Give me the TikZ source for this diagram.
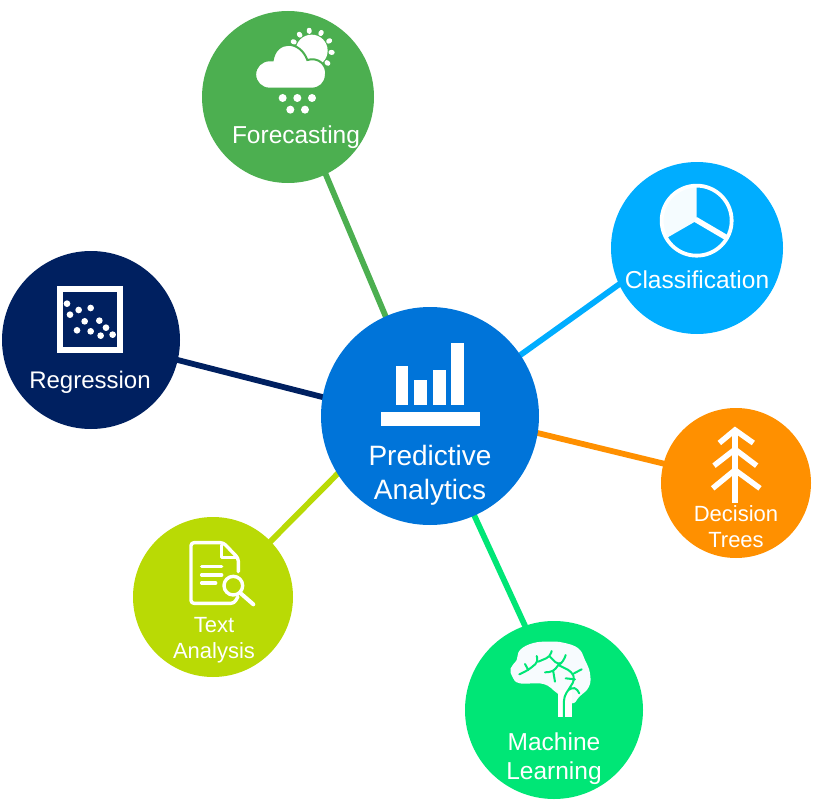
\documentclass[tikz,border=0pt]{standalone}
\usepackage{fontspec}
\setmainfont{Liberation Sans}
\usetikzlibrary{backgrounds}
\definecolor{hubblue}{HTML}{0074D9}
\definecolor{fcgreen}{HTML}{4CAF50}
\definecolor{clblue}{HTML}{00ADFF}
\definecolor{rgnavy}{HTML}{002060}
\definecolor{dtorange}{HTML}{FF9000}
\definecolor{talime}{HTML}{B9DA05}
\definecolor{mlgreen}{HTML}{00E676}
\tikzset{x=1pt,y=-1pt,
 disc/.style={circle,inner sep=0pt,outer sep=0pt,minimum size=#1},
 spoke/.style={line width=5.8pt,shorten <=-3pt,shorten >=-3pt},
 lbl/.style={text=white,inner sep=0pt,align=center,font=\fontsize{#1}{#1}\selectfont},
 zoomed/.style={shift={#1},x=0.3333pt,y=-0.3333pt},
 icon/.style={draw=white,line cap=round,line join=round},
 treeline/.style={draw=white,line width=5.5pt,line join=miter},
 }

\begin{document}
\begin{tikzpicture}
        \useasboundingbox (0,0) rectangle (825,800);
        \node[disc=218pt,fill=hubblue] (hub) at (430,416) {};
        \node[disc=172pt,fill=fcgreen] (forecast) at (288,97) {};
        \node[disc=172pt,fill=clblue] (classif) at (697,248) {};
        \node[disc=178pt,fill=rgnavy] (regress) at (91,340) {};
        \node[disc=150pt,fill=dtorange] (dectree) at (736,483) {};
        \node[disc=160pt,fill=talime] (textan) at (213,597) {};
        \node[disc=178pt,fill=mlgreen] (machine) at (554,710) {};
        \begin{scope}[on background layer]
            \draw[spoke,fcgreen] (hub.114) -- (forecast.-64);
            \draw[spoke,clblue] (hub.34) -- (classif.205.7);
            \draw[spoke,rgnavy] (hub.170.5) -- (regress.-13.6);
            \draw[spoke,dtorange] (hub.-9.5) -- (dectree.165);
            \draw[spoke,talime] (hub.212.8) -- (textan.44.5);
            \draw[spoke,mlgreen] (hub.-66) -- (machine.109.5);
        \end{scope}
        % labels
        \node[lbl=28] (hubtxt) at (430,475) {Predictive\\[6pt]Analytics};
        \node[lbl=24.5] (fctxt) at (296,137) {Forecasting};
        \node[lbl=24.5] (cltxt) at (697,280) {Classification};
        \node[lbl=24] (rgtxt) at (90,382) {Regression};
        \node[lbl=22] (dttxt) at (736,526.5) {Decision\\[4pt]Trees};
        \node[lbl=22] (tatxt) at (214,640.5) {Text\\[4pt]Analysis};
        \node[lbl=24.5] (mltxt) at (554,758.5) {Machine\\[5pt]Learning};
        % bars
        \begin{scope}[zoomed={(370,330)}]
            \fill[white] (77,108) rectangle (115,225);
            \fill[white] (133,150) rectangle (171,225);
            \fill[white] (190,120) rectangle (228,225);
            \fill[white] (244,38) rectangle (282,225);
            \fill[white] (33,247) rectangle (330,288);
        \end{scope}
        % weather
        \begin{scope}[zoomed={(200,0)}]
            \fill[white] (335,152) circle (48);
            \foreach \a in {206,233,263,298,331,5,38}
                \draw[white,line width=4.8pt,line cap=round] ([shift={(335,152)}]\a:58) -- ([shift={(335,152)}]\a:62);
            \draw[fill=white,draw=fcgreen,line width=2pt]
                (208,266) arc (90:270:42.5) -- (218,181)
                .. controls (228,118) and (300,120) .. (322,180)
                .. controls (355,170) and (382,195) .. (378,225)
                .. controls (376,250) and (360,266) .. (335,266) -- cycle;
            \foreach \rx/\ry in {248/294,292/294,336/294,271/329,315/329}
                \fill[white] (\rx,\ry) circle (12);
        \end{scope}
        % pie
        \begin{scope}[zoomed={(620,170)}]
            \fill[white!96!clblue] (230,152) -- (230,47) arc (-90:-210:105) -- cycle;
            \draw[white,line width=3.8pt] (230,152) circle (105);
            \draw[white,line width=5.5pt] (226,148) -- (318,202);
        \end{scope}
        % scatter
        \begin{scope}[zoomed={(30,270)}]
            \draw[white,line width=6pt] (89,56) rectangle (271,241);
            \foreach \dx/\dy in {111/101,120/134,146/120,182/114,164/154,208/152,228/173,141/181,182/184,212/197,248/194}
                \fill[white] (\dx,\dy) circle (10);
        \end{scope}
        % tree
        \begin{scope}[zoomed={(690,420)}]
            \draw[treeline] (135,28) -- (135,250);
            \draw[treeline] (88,69) -- (135,30) -- (190,69);
            \draw[treeline] (72,137) -- (135,88) -- (200,137);
            \draw[treeline] (68,205) -- (135,150) -- (210,205);
        \end{scope}
        % document
        \begin{scope}[zoomed={(170,530)}]
            \draw[icon,line width=3.4pt,rounded corners=3pt] (205,125) -- (205,85) -- (160,38) -- (63,38) -- (63,220) -- (192,220) -- (204,200);
            \draw[icon,line width=3pt] (155,45) -- (155,83) -- (200,83);
            \draw[icon,line width=3.4pt] (95,110) -- (155,110);
            \draw[icon,line width=3.4pt] (95,135) -- (155,135);
            \draw[icon,line width=3.4pt] (95,159) -- (137,159);
            \draw[icon,line width=3.4pt] (190,167) circle (28);
            \draw[icon,line width=4pt] (212,190) -- (250,223);
        \end{scope}
        % brain
        \begin{scope}[zoomed={(500,640)}]
            \fill[white!97!hubblue] plot[smooth cycle,tension=.7] coordinates {(172,160) (130,132) (60,130) (38,112) (32,85) (50,60) (60,30) (100,9) (150,5) (190,8) (235,25) (255,60) (270,100) (267,140) (238,170) (215,190)};
            \fill[white] (174,150) rectangle (215,231);
            \draw[mlgreen,line width=2pt,line cap=round,line join=round,rounded corners=4pt]
                (58,103) -- (85,90) -- (115,65) -- (110,48)
                (85,90) -- (75,72)
                (115,65) -- (150,50) -- (155,33)
                (150,50) -- (175,75) -- (190,65) -- (197,45)
                (175,75) -- (215,95) -- (225,118) -- (205,150) -- (192,170) -- (192,232)
                (222,100) -- (245,88)
                (175,75) -- (160,95) -- (135,97)
                (160,95) -- (165,125)
                (225,118) -- (197,115)
                (205,150) -- (225,140) -- (238,160);
        \end{scope}
\end{tikzpicture}
\end{document}
